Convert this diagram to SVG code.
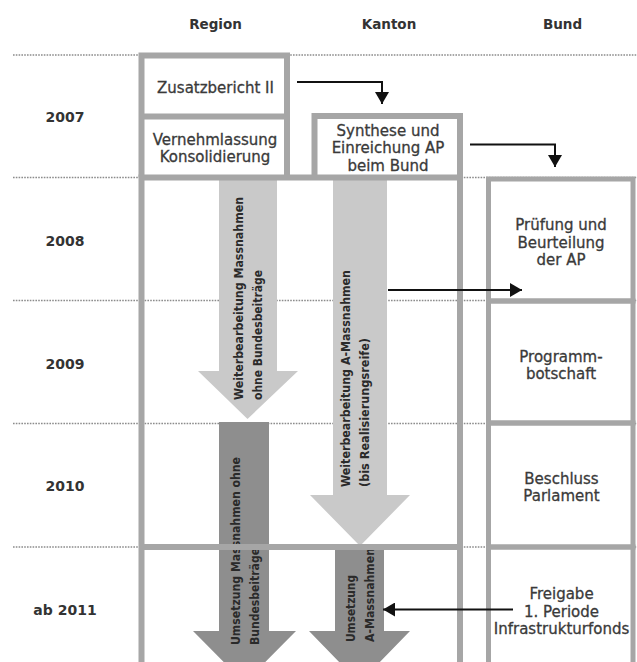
<svg xmlns="http://www.w3.org/2000/svg" width="637" height="662" viewBox="0 0 637 662">
<style>
.hdr{font-family:"DejaVu Sans",sans-serif;font-weight:bold;font-size:13.5px;fill:#333;text-anchor:middle}
.yr{font-family:"DejaVu Sans",sans-serif;font-weight:bold;font-size:14px;fill:#333;text-anchor:middle}
.bx{font-family:"DejaVu Sans",sans-serif;font-size:15px;fill:#3a3a3a;stroke:#3a3a3a;stroke-width:0.3;text-anchor:middle}
.at{font-family:"DejaVu Sans Condensed","DejaVu Sans",sans-serif;font-stretch:condensed;font-weight:bold;font-size:13px;fill:#2a2a2a}
.dot{stroke:#8c8c8c;stroke-width:1.4;stroke-dasharray:1.6 1.2;fill:none}
.frm{stroke:#a6a6a6;stroke-width:6;fill:none}
.bnd{stroke:#a6a6a6;stroke-width:5;fill:none}
.lt{fill:#c9c9c9}
.dk{fill:#8e8e8e}
.con{stroke:#111;stroke-width:2;fill:none;marker-end:url(#ah)}
</style>
<defs>
<marker id="ah" viewBox="0 0 12 14" refX="12" refY="7" markerWidth="12" markerHeight="14" markerUnits="userSpaceOnUse" orient="auto">
<path d="M0,0 L12,7 L0,14 z" fill="#111"/>
</marker>
</defs>
<rect width="637" height="662" fill="#fff"/>
<g id="gridlines">
<line class="dot" x1="13" y1="55" x2="637" y2="55"/>
<line class="dot" x1="13" y1="177.5" x2="637" y2="177.5"/>
<line class="dot" x1="13" y1="300.5" x2="637" y2="300.5"/>
<line class="dot" x1="13" y1="423.5" x2="637" y2="423.5"/>
<line class="dot" x1="13" y1="547" x2="637" y2="547"/>
</g>
<g id="headers">
<text class="hdr" x="215.5" y="28.5">Region</text>
<text class="hdr" x="389" y="28.5">Kanton</text>
<text class="hdr" x="562.5" y="28.5">Bund</text>
</g>
<g id="years">
<text class="yr" x="65" y="122">2007</text>
<text class="yr" x="65" y="246">2008</text>
<text class="yr" x="65" y="368.5">2009</text>
<text class="yr" x="65" y="491">2010</text>
<text class="yr" x="65" y="614.5">ab 2011</text>
</g>
<g id="arrow-weiterbearbeitung-region">
<polygon class="lt" points="219,180 277,180 277,371 298,371 247.5,419 198,371 219,371"/>
<text class="at" transform="translate(243,400) rotate(-90)" textLength="203" lengthAdjust="spacingAndGlyphs">Weiterbearbeitung Massnahmen</text>
<text class="at" transform="translate(262,400) rotate(-90)" textLength="130" lengthAdjust="spacingAndGlyphs">ohne Bundesbeiträge</text>
</g>
<g id="arrow-weiterbearbeitung-kanton">
<polygon class="lt" points="333,180 387,180 387,495 410,495 360,546 310,495 333,495"/>
<text class="at" transform="translate(350,487) rotate(-90)" textLength="217" lengthAdjust="spacingAndGlyphs">Weiterbearbeitung A-Massnahmen</text>
<text class="at" transform="translate(369,487) rotate(-90)" textLength="149" lengthAdjust="spacingAndGlyphs">(bis Realisierungsreife)</text>
</g>
<g id="arrow-umsetzung-region">
<polygon class="dk" points="219,422 269,422 269,631 296,631 244.5,683 193,631 219,631"/>
<text class="at" transform="translate(240,645) rotate(-90)" textLength="188" lengthAdjust="spacingAndGlyphs">Umsetzung Massnahmen ohne</text>
<text class="at" transform="translate(259,645) rotate(-90)" textLength="97" lengthAdjust="spacingAndGlyphs">Bundesbeiträge</text>
</g>
<g id="arrow-umsetzung-kanton">
<polygon class="dk" points="335,549 384,549 384,631 410,631 359.5,683 309,631 335,631"/>
<text class="at" transform="translate(355,642) rotate(-90)" textLength="67" lengthAdjust="spacingAndGlyphs">Umsetzung</text>
<text class="at" transform="translate(374,642) rotate(-90)" textLength="94" lengthAdjust="spacingAndGlyphs">A-Massnahmen</text>
</g>
<g id="frame">
<path class="frm" d="M141.5 662 V177.5 H460 V662 M141.5 547 H460"/>
</g>
<g id="zusatzbericht">
<path class="frm" d="M141.5 177.5 V55.5 H287 V177.5"/>
<text class="bx" x="215.5" y="92.5">Zusatzbericht II</text>
</g>
<g id="vernehmlassung">
<path class="frm" d="M141.5 116.5 H287"/>
<text class="bx" x="215" y="145">Vernehmlassung</text>
<text class="bx" x="215" y="162">Konsolidierung</text>
</g>
<g id="synthese">
<path class="frm" d="M314.5 177.5 V116 H460 V177.5"/>
<text class="bx" x="388" y="136">Synthese und</text>
<text class="bx" x="388" y="153">Einreichung AP</text>
<text class="bx" x="388" y="170.5">beim Bund</text>
</g>
<g id="pruefung">
<rect class="bnd" x="488.5" y="179" width="144.5" height="122"/>
<text class="bx" x="561" y="230">Prüfung und</text>
<text class="bx" x="561" y="247.5">Beurteilung</text>
<text class="bx" x="561" y="265">der AP</text>
</g>
<g id="programmbotschaft">
<rect class="bnd" x="488.5" y="301" width="144.5" height="122"/>
<text class="bx" x="561" y="361.5">Programm-</text>
<text class="bx" x="561" y="379">botschaft</text>
</g>
<g id="beschluss">
<rect class="bnd" x="488.5" y="423" width="144.5" height="124"/>
<text class="bx" x="561.5" y="483.5">Beschluss</text>
<text class="bx" x="561.5" y="501">Parlament</text>
</g>
<g id="freigabe">
<rect class="bnd" x="488.5" y="547" width="144.5" height="130"/>
<text class="bx" x="561.5" y="599">Freigabe</text>
<text class="bx" x="561.5" y="616.5">1. Periode</text>
<text class="bx" x="561.5" y="634">Infrastrukturfonds</text>
</g>
<g id="connectors">
<path class="con" d="M297 82 H382 V104"/>
<path class="con" d="M470 144.5 H555 V167"/>
<path class="con" d="M388 290 H522"/>
<path class="con" d="M513 609.5 H383"/>
</g>
</svg>
